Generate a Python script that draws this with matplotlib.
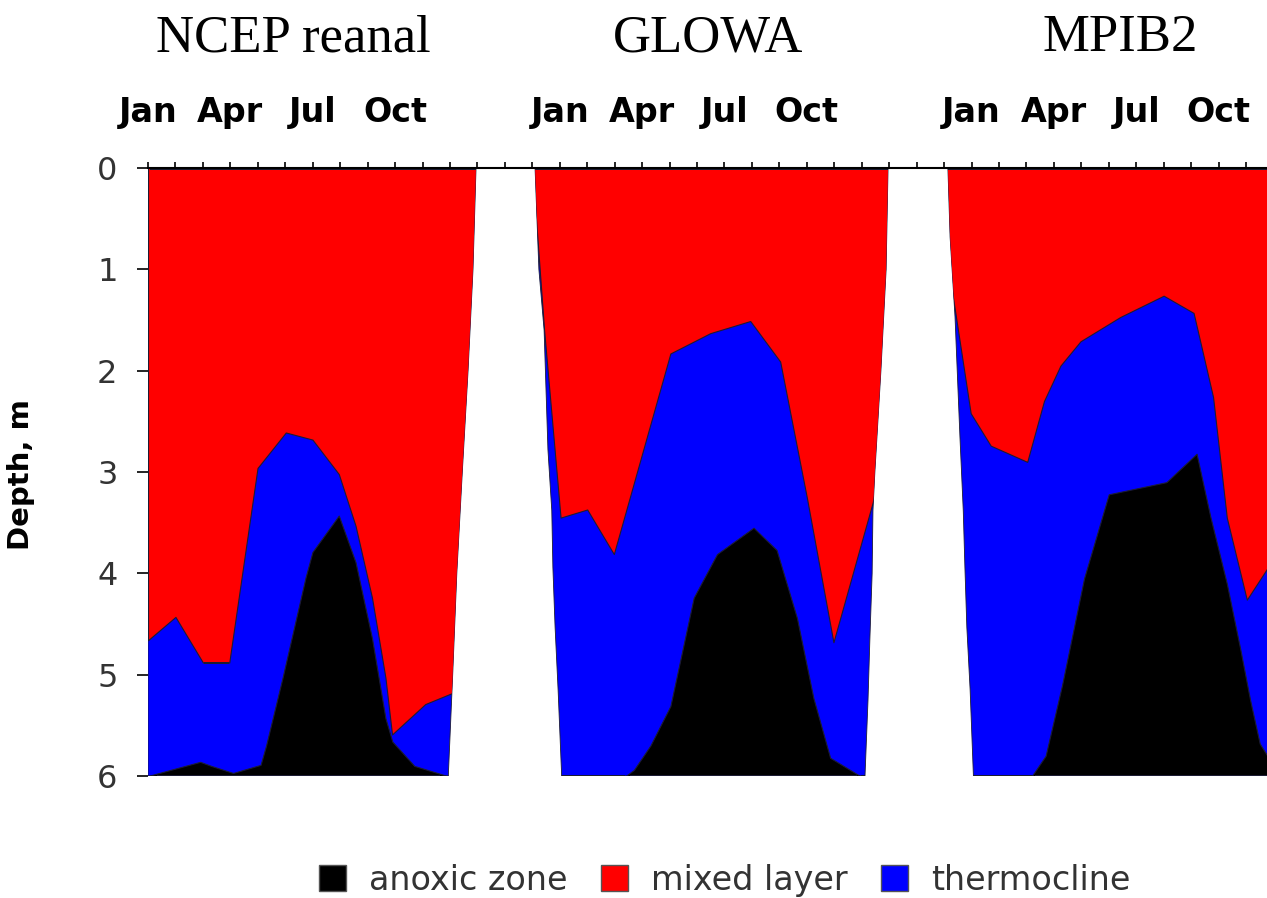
import numpy as np
import matplotlib.pyplot as plt
import matplotlib.transforms as mtransforms
from matplotlib.patches import Polygon, Patch

# time axis in months from Jan of the first run; depth in m
titles = ["NCEP reanal", "GLOWA", "MPIB2"]
title_x = [5.3, 20.4, 35.4]

month_pos = [0, 3, 6, 9, 15, 18, 21, 24, 30, 33, 36, 39]
month_names = ["Jan", "Apr", "Jul", "Oct"] * 3

# NCEP reanal
ncep_ml_x = [0, 1.0, 2.0, 2.96, 3.99, 5.02, 5.99, 6.95, 7.56, 8.16, 8.65, 8.89, 10.1, 11.0, 12.0]
ncep_ml_d = [4.66, 4.43, 4.88, 4.88, 2.96, 2.61, 2.68, 3.02, 3.53, 4.24, 5.03, 5.59, 5.29, 5.19, 5.1]
ncep_an_x = [0, 1.9, 2.3, 3.1, 4.1, 4.3, 4.9, 5.74, 5.99, 6.95, 7.56, 8.16, 8.65, 8.9, 9.7, 10.9, 12.0]
ncep_an_d = [6.0, 5.86, 5.9, 5.97, 5.89, 5.7, 5.03, 4.04, 3.79, 3.43, 3.89, 4.64, 5.43, 5.66, 5.9, 6.0, 6.0]
ncep_left_d = [0, 6]
ncep_left_x = [0, 0]
ncep_right_d = [0, 1, 2, 3, 4, 5, 6]
ncep_right_x = [11.95, 11.84, 11.66, 11.45, 11.25, 11.1, 10.94]

# GLOWA
glowa_ml_x = [14.0, 14.43, 15.03, 16.0, 16.97, 19.03, 20.48, 21.94, 23.03, 24.0, 24.97, 26.4, 27.2]
glowa_ml_d = [0.0, 1.6, 3.45, 3.37, 3.81, 1.83, 1.63, 1.51, 1.91, 3.25, 4.68, 3.3, 2.2]
glowa_an_x = [14.0, 17.4, 17.7, 18.3, 19.03, 19.88, 20.73, 22.06, 22.9, 23.64, 24.24, 24.85, 25.94, 27.2]
glowa_an_d = [6.0, 6.0, 5.94, 5.7, 5.31, 4.24, 3.81, 3.55, 3.77, 4.44, 5.23, 5.82, 6.0, 6.0]
glowa_left_d = [0, 1.0, 1.6, 2.78, 3.38, 3.94, 4.53, 5.15, 6]
glowa_left_x = [14.10, 14.24, 14.43, 14.57, 14.71, 14.75, 14.83, 14.94, 15.07]
glowa_right_d = [0, 1.0, 2.0, 3.0, 3.38, 4.0, 4.63, 5.25, 6]
glowa_right_x = [26.96, 26.89, 26.70, 26.48, 26.41, 26.38, 26.30, 26.23, 26.12]

# MPIB2
mpib_ml_x = [29.0, 29.97, 30.7, 32.03, 32.64, 33.24, 33.97, 35.42, 37.0, 38.09, 38.8, 39.3, 40.03, 40.8]
mpib_ml_d = [0.7, 2.42, 2.74, 2.9, 2.3, 1.95, 1.71, 1.47, 1.26, 1.43, 2.26, 3.45, 4.26, 3.94]
mpib_an_x = [29.0, 32.2, 32.7, 33.3, 34.1, 35.0, 37.1, 38.2, 38.7, 39.3, 39.8, 40.15, 40.5, 40.8]
mpib_an_d = [6.0, 6.0, 5.8, 5.1, 4.05, 3.22, 3.1, 2.82, 3.44, 4.1, 4.76, 5.25, 5.68, 5.81]
mpib_left_d = [0, 0.68, 1.47, 2.66, 3.38, 3.94, 4.53, 5.15, 6]
mpib_left_x = [29.14, 29.22, 29.40, 29.58, 29.70, 29.76, 29.83, 29.95, 30.07]
mpib_right_d = [0, 6]
mpib_right_x = [41.5, 41.5]

RED, BLUE, BLACK = "#ff0000", "#0000ff", "#000000"
EDGE = "#1c1c34"

runs = [
    (ncep_ml_x, ncep_ml_d, ncep_an_x, ncep_an_d, ncep_left_x, ncep_left_d, ncep_right_x, ncep_right_d),
    (glowa_ml_x, glowa_ml_d, glowa_an_x, glowa_an_d, glowa_left_x, glowa_left_d, glowa_right_x, glowa_right_d),
    (mpib_ml_x, mpib_ml_d, mpib_an_x, mpib_an_d, mpib_left_x, mpib_left_d, mpib_right_x, mpib_right_d),
]

W, H = 1267, 898
fig = plt.figure(figsize=(W / 100, H / 100), dpi=100)
ax = fig.add_axes([148 / W, 122 / H, 1 - 148 / W, (776 - 168) / H])

for ml_x, ml_d, an_x, an_d, lx, ld, rx, rd in runs:
    # outline of the run: left edge top->bottom, right edge bottom->top
    verts = list(zip(lx, ld)) + list(zip(rx[::-1], rd[::-1]))
    env = Polygon(verts, closed=True, facecolor=BLUE, edgecolor=EDGE, lw=0.6, zorder=1)
    ax.add_patch(env)
    red = ax.fill_between(ml_x, 0, ml_d, facecolor=RED, edgecolor=EDGE, lw=0.8, zorder=2)
    red.set_clip_path(env)
    blk = ax.fill_between(an_x, an_d, 6, facecolor=BLACK, edgecolor=EDGE, lw=0.8, zorder=3)
    blk.set_clip_path(env)

ax.set_xlim(0, (W - 148) / 27.45)
ax.set_ylim(6, 0)

# month ticks along the top
labels = [""] * 41
for p, n in zip(month_pos, month_names):
    labels[p] = n
ax.xaxis.tick_top()
ax.set_xticks(range(41))
ax.set_xticklabels(labels, fontsize=24, fontweight="bold", family="DejaVu Sans")
ax.tick_params(axis="x", direction="out", length=4, width=1.2, pad=24)

ax.set_yticks(range(7))
ax.set_yticklabels([str(i) for i in range(7)], fontsize=23, color="#333333",
                   family="DejaVu Sans")
ax.tick_params(axis="y", direction="out", length=8, width=1.2, pad=14)

for s in ["left", "right", "bottom"]:
    ax.spines[s].set_visible(False)
ax.spines["top"].set_linewidth(1.5)

ax.set_ylabel("Depth, m", fontsize=21, fontweight="bold", family="DejaVu Sans")
ax.yaxis.set_label_coords(-0.101, 0.495)

title_trans = mtransforms.blended_transform_factory(ax.transData, fig.transFigure)
for t, x in zip(titles, title_x):
    ax.text(x, 1 - 51 / H, t, transform=title_trans,
            ha="center", va="baseline", fontsize=38, family="Liberation Serif")

handles = [Patch(facecolor=BLACK, edgecolor="#555555"),
           Patch(facecolor=RED, edgecolor="#555555"),
           Patch(facecolor=BLUE, edgecolor="#555555")]
fig.legend(handles, ["anoxic zone", "mixed layer", "thermocline"], loc="center",
           bbox_to_anchor=(0.572, 0.02), ncol=3, frameon=False,
           handlelength=0.8, handleheight=0.8, handletextpad=0.7, columnspacing=1.0,
           prop={"family": "DejaVu Sans", "size": 24},
           labelcolor="#333333")

fig.savefig("out.png", dpi=100)
